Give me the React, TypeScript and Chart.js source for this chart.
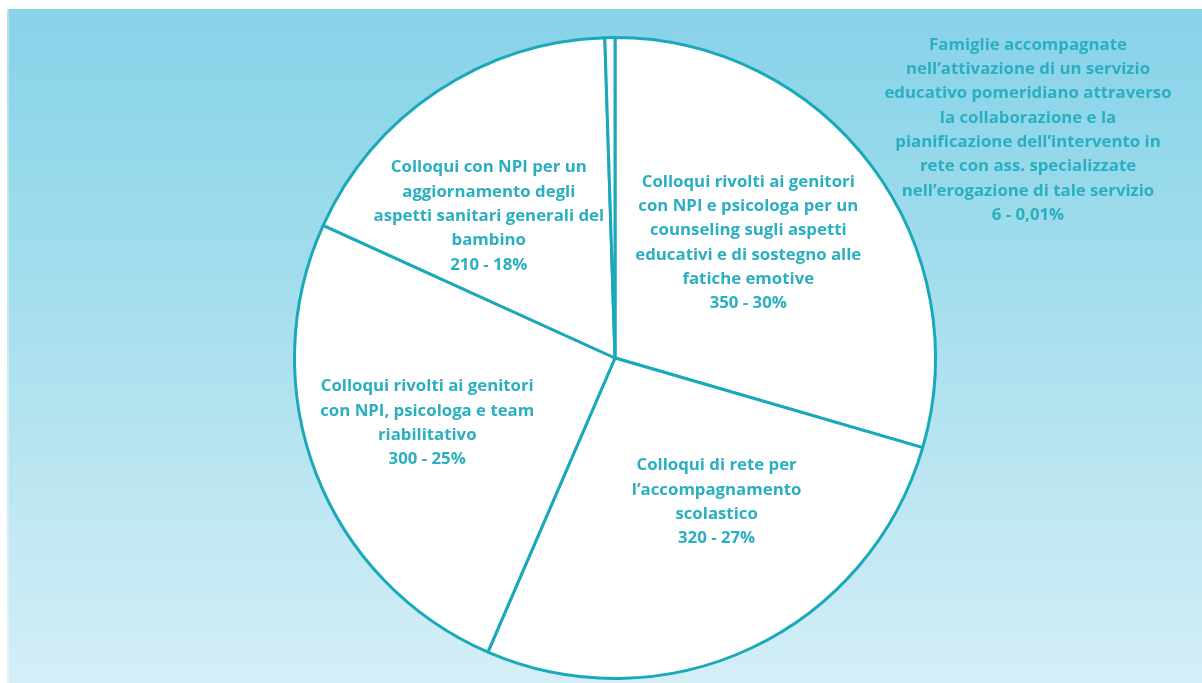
import React, { useEffect, useRef } from "react";
import { Chart, registerables } from "chart.js";

Chart.register(...registerables);

const categories: string[] = [
  "Colloqui rivolti ai genitori con NPI e psicologa per un counseling sugli aspetti educativi e di sostegno alle fatiche emotive",
  "Colloqui di rete per l’accompagnamento scolastico",
  "Colloqui rivolti ai genitori con NPI, psicologa e team riabilitativo",
  "Colloqui con NPI per un aggiornamento degli aspetti sanitari generali del bambino",
  "Famiglie accompagnate nell’attivazione di un servizio educativo pomeridiano attraverso la collaborazione e la pianificazione dell’intervento in rete con ass. specializzate nell’erogazione di tale servizio",
];
const values: number[] = [350, 320, 300, 210, 6];
const percentLabels: string[] = ["30%", "27%", "25%", "18%", "0,01%"];

const labelLines: string[][] = [
  ["Colloqui rivolti ai genitori", "con NPI e psicologa per un", "counseling sugli aspetti", "educativi e di sostegno alle", "fatiche emotive"],
  ["Colloqui di rete per", "l’accompagnamento", "scolastico"],
  ["Colloqui rivolti ai genitori", "con NPI, psicologa e team", "riabilitativo"],
  ["Colloqui con NPI per un", "aggiornamento degli", "aspetti sanitari generali del", "bambino"],
  ["Famiglie accompagnate", "nell’attivazione di un servizio", "educativo pomeridiano attraverso", "la collaborazione e la", "pianificazione dell’intervento in", "rete con ass. specializzate", "nell’erogazione di tale servizio"],
];

// label placement: radius fraction and angle offset (degrees) relative to slice middle
const labelRadius: number[] = [0.55, 0.55, 0.62, 0.592];
const labelAngleShift: number[] = [-4, -10, 2, -8];

const TEAL = "#1aa9ba";
const TEXT = "#2aafc0";

const bgPlugin = {
  id: "bg",
  beforeDraw(chart: any) {
    const { ctx, width, height } = chart;
    ctx.save();
    ctx.fillStyle = "#ffffff";
    ctx.fillRect(0, 0, width, height);
    const g = ctx.createLinearGradient(0, 9, 0, height);
    g.addColorStop(0, "#89d2ea");
    g.addColorStop(0.2, "#93d8ea");
    g.addColorStop(0.6, "#b3e3f0");
    g.addColorStop(1, "#d4eef6");
    ctx.fillStyle = g;
    ctx.fillRect(7, 9, width - 7, height - 9);
    ctx.fillStyle = "rgba(255,255,255,0.35)";
    ctx.fillRect(7, 9, 2, height - 9);
    ctx.restore();
  },
};

const labelPlugin = {
  id: "labels",
  afterDraw(chart: any) {
    const { ctx } = chart;
    const meta = chart.getDatasetMeta(0);
    ctx.save();
    ctx.fillStyle = TEXT;
    ctx.font = "bold 16.8px 'Open Sans', Lato, sans-serif";
    ctx.textAlign = "center";
    ctx.textBaseline = "middle";
    const lh = 24.3;
    meta.data.forEach((arc: any, i: number) => {
      const lines = [...labelLines[i], `${values[i]} - ${percentLabels[i]}`];
      let cx: number;
      let cy: number;
      if (i < labelRadius.length) {
        const mid = (arc.startAngle + arc.endAngle) / 2 + (labelAngleShift[i] * Math.PI) / 180;
        const r = arc.outerRadius * labelRadius[i];
        cx = arc.x + Math.cos(mid) * r;
        cy = arc.y + Math.sin(mid) * r;
      } else {
        cx = chart.width - 174;
        cy = 130;
      }
      const top = cy - ((lines.length - 1) * lh) / 2;
      lines.forEach((t, k) => ctx.fillText(t, cx, top + k * lh));
    });
    ctx.restore();
  },
};

export default function App() {
  const ref = useRef<HTMLCanvasElement | null>(null);
  useEffect(() => {
    if (!ref.current) return;
    const chart = new Chart(ref.current, {
      type: "pie",
      data: {
        labels: categories,
        datasets: [
          {
            data: values,
            backgroundColor: "#ffffff",
            borderColor: TEAL,
            borderWidth: 3,
            hoverOffset: 0,
          },
        ],
      },
      options: {
        animation: false,
        responsive: false,
        layout: { padding: { left: 293, right: 265, top: 36, bottom: 3 } },
        plugins: {
          legend: { display: false },
          tooltip: { enabled: false },
        },
      },
      plugins: [bgPlugin, labelPlugin],
    });
    return () => chart.destroy();
  }, []);
  return (
    <div style={{ position: "absolute", left: 0, top: 0, width: 1202, height: 683 }}>
      <canvas ref={ref} width={1202} height={683} style={{ display: "block" }} />
    </div>
  );
}
